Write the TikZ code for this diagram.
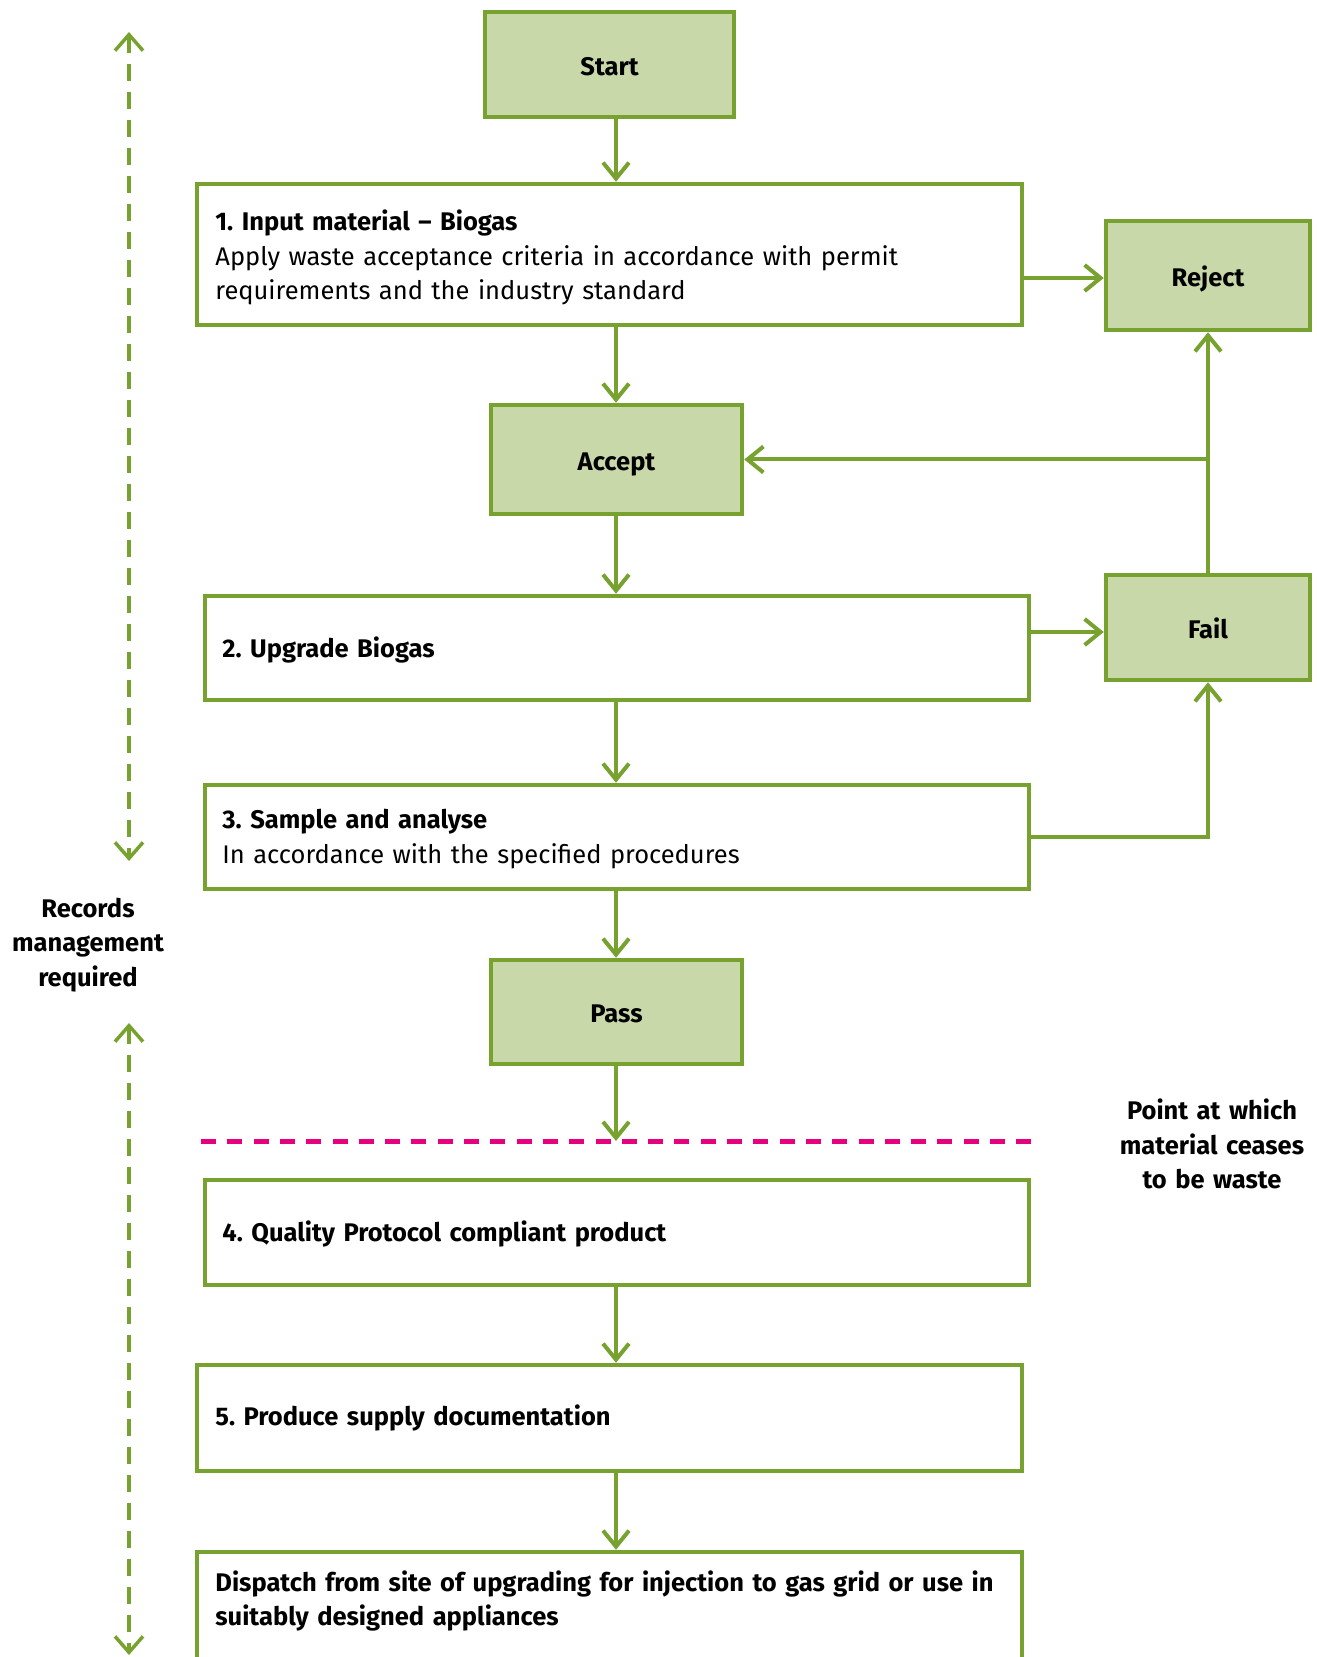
\documentclass[tikz,border=0pt]{standalone}
\usepackage{fontspec}
\setmainfont{Fira Sans}
\usetikzlibrary{arrows.meta}
\definecolor{eagreen}{HTML}{78A22F}
\definecolor{eafill}{HTML}{C9D8A9}
\definecolor{eapink}{HTML}{E6007E}
\newcommand{\eafont}{\fontsize{12.75pt}{17.25pt}\selectfont\frenchspacing}
\begin{document}
\begin{tikzpicture}[x=0.5pt,y=-0.5pt,
  font=\eafont,
  greenbox/.style={draw=eagreen, line width=2.25pt, fill=eafill, inner sep=0pt},
  greenlabel/.style={inner sep=0pt, text height=0.689em, text depth=0pt, font=\eafont\bfseries, yshift=-2pt},
  stepbox/.style={draw=eagreen, line width=2.25pt, fill=white, inner sep=0pt},
  steptext/.style={anchor=base west, inner sep=0pt, text width=420pt, align=left},
  flow/.style={draw=eagreen, line width=2pt, -{Straight Barb[length=8pt,width=13pt]}},
  records/.style={draw=eagreen, line width=1.75pt, dash pattern=on 8.5pt off 5.5pt,
    {Straight Barb[length=8pt,width=14pt]}-{Straight Barb[length=8pt,width=14pt]}},
  note/.style={anchor=base, inner sep=0pt, text width=130pt, align=center, font=\eafont\bfseries}
]
\useasboundingbox (0,0) rectangle (1316,1657);
\coordinate (colx) at (616,0);
% green decision boxes
\node[greenbox, minimum width=124.5pt, minimum height=52.5pt] (start) at (609.5,64.5) {};
\node[greenlabel] (startlabel) at (start) {Start};
\node[greenbox, minimum width=102pt, minimum height=54.5pt] (reject) at (1208,275.5) {};
\node[greenlabel] (rejectlabel) at (reject) {Reject};
\node[greenbox, minimum width=125.5pt, minimum height=54.5pt] (accept) at (616.5,459.5) {};
\node[greenlabel] (acceptlabel) at (accept) {Accept};
\node[greenbox, minimum width=102pt, minimum height=52.5pt] (fail) at (1208,627.5) {};
\node[greenlabel] (faillabel) at (fail) {Fail};
\node[greenbox, minimum width=125.5pt, minimum height=52pt] (pass) at (616.5,1012) {};
\node[greenlabel] (passlabel) at (pass) {Pass};
% step boxes
\node[stepbox, minimum width=412.5pt, minimum height=70.5pt] (box1) at (609.5,254.5) {};
\node[steptext] (box1text) at (215,231)
  {\textbf{1. Input material – Biogas}\\Apply waste acceptance criteria in accordance with permit\\requirements and the industry standard};
\node[stepbox, minimum width=412pt, minimum height=52pt] (box2) at (617,648) {};
\node[steptext] (box2text) at (222,657) {\textbf{2. Upgrade Biogas}};
\node[stepbox, minimum width=412pt, minimum height=52pt] (box3) at (617,837) {};
\node[steptext] (box3text) at (222,828.5)
  {\textbf{3. Sample and analyse}\\In accordance with the specified procedures};
\node[stepbox, minimum width=412pt, minimum height=52.5pt] (box4) at (617,1232.5) {};
\node[steptext] (box4text) at (222,1241.5) {\textbf{4. Quality Protocol compliant product}};
\node[stepbox, minimum width=412.5pt, minimum height=53pt] (box5) at (609.5,1418) {};
\node[steptext] (box5text) at (215,1425) {\textbf{5. Produce supply documentation}};
\node[stepbox, minimum width=412.5pt, minimum height=65pt] (box6) at (609.5,1617) {};
\node[steptext, font=\eafont\bfseries] (box6text) at (215,1591)
  {Dispatch from site of upgrading for injection to gas grid or use in\\suitably designed appliances};
% side notes
\node[note] (recnote) at (88,917) {Records\\management\\required};
\node[note] (wastenote) at (1212,1119.5) {Point at which\\material ceases\\to be waste};
% connectors
\coordinate (r1) at (0,278);
\coordinate (f1) at (0,632);
\coordinate (wasteline) at (616,1141);
\draw[flow] (start.south -| colx) -- (box1.north -| colx);
\draw[flow] (box1.east |- r1) -- (reject.west |- r1);
\draw[flow] (box1.south -| colx) -- (accept.north -| colx);
\draw[flow] (fail.north) -- (reject.south);
\draw[flow] (fail.north |- accept.east) -- (accept.east);
\draw[flow] (accept.south -| colx) -- (box2.north -| colx);
\draw[flow] (box2.east |- f1) -- (fail.west |- f1);
\draw[flow] (box2.south -| colx) -- (box3.north -| colx);
\draw[flow] (box3.east) -| (fail.south);
\draw[flow] (box3.south -| colx) -- (pass.north -| colx);
\draw[flow] (pass.south -| colx) -- (wasteline);
\draw[flow] (box4.south -| colx) -- (box5.north -| colx);
\draw[flow] (box5.south -| colx) -- (box6.north -| colx);
% waste line
\coordinate (wl) at (201,1141.5);
\coordinate (wr) at (1031,1141.5);
\draw[eapink, line width=2.5pt, dash pattern=on 7.5pt off 5.65pt] (wl) -- (wr);
% records arrows
\coordinate (rt) at (129,32);
\coordinate (rb) at (129,861);
\coordinate (rt2) at (129,1023);
\coordinate (rb2) at (129,1655);
\draw[records] (rt) -- (rb);
\draw[records] (rt2) -- (rb2);
\end{tikzpicture}
\end{document}
